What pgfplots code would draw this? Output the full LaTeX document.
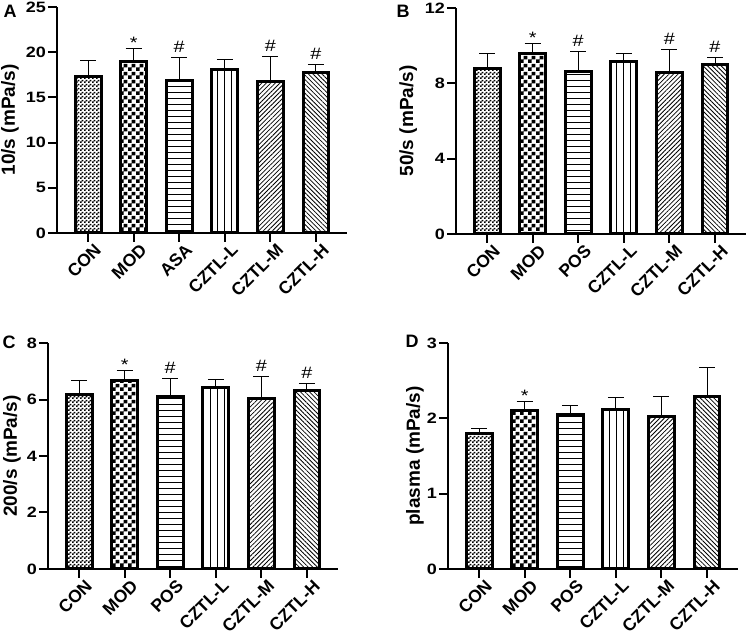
\documentclass[border=0pt]{standalone}
\usepackage{fontspec}
\setmainfont{Liberation Sans}
\newfontfamily\wide[FakeStretch=1.2]{Liberation Sans}
\usepackage{pgfplots}
\pgfplotsset{compat=1.18}
\usetikzlibrary{patterns,patterns.meta}

% checkerboards of two sizes
\pgfdeclarepatternformonly{checkfine}{\pgfpointorigin}{\pgfqpoint{4pt}{4pt}}{\pgfqpoint{4pt}{4pt}}{%
  \pgfpathrectangle{\pgfpointorigin}{\pgfqpoint{2pt}{2pt}}%
  \pgfpathrectangle{\pgfqpoint{2pt}{2pt}}{\pgfqpoint{2pt}{2pt}}%
  \pgfusepath{fill}}
\pgfdeclarepatternformonly{checkbig}{\pgfpointorigin}{\pgfqpoint{8pt}{8pt}}{\pgfqpoint{8pt}{8pt}}{%
  \pgfpathrectangle{\pgfpointorigin}{\pgfqpoint{4pt}{4pt}}%
  \pgfpathrectangle{\pgfqpoint{4pt}{4pt}}{\pgfqpoint{4pt}{4pt}}%
  \pgfusepath{fill}}

\tikzset{
  pCON/.style={pattern=checkfine},
  pMOD/.style={pattern=checkbig},
  pPOS/.style={pattern={Lines[angle=0,distance=6pt,line width=1pt]}},
  pL/.style={pattern={Lines[angle=90,distance=7pt,line width=1pt]}},
  pM/.style={pattern={Lines[angle=45,distance=3.2pt,line width=0.8pt]}},
  pH/.style={pattern={Lines[angle=-45,distance=3.2pt,line width=0.8pt]}},
}

% one bar: style, x, mean, sd
\newcommand{\onebar}[4]{%
  \addplot[ybar, bar width=0.57, bar shift=0pt, draw=black, line width=3pt, #1,
    error bars/.cd, y dir=plus, y explicit,
    error bar style={line width=1pt},
    error mark options={rotate=90, line width=1pt, mark size=8pt}]
    coordinates {(#2,#3) +- (0,#4)};}

\pgfplotsset{panel/.style={
  width=290pt, height=226pt, scale only axis, anchor=south west,
  axis x line*=bottom, axis y line*=left,
  axis line style={line width=2pt},
  tick align=outside, major tick length=9pt,
  tick style={black, line width=2pt},
  xmin=-0.68, xmax=5.68, ymin=0, xtick={0,...,5},
  /pgf/number format/assume math mode=true,
  x tick label style={font=\bfseries\fontsize{17.5}{20}\selectfont,
    xshift=10pt, yshift=-5pt, rotate=45, anchor=east, inner sep=0pt},
  y tick label style={font=\wide\bfseries\fontsize{15}{18}\selectfont, inner sep=2pt},
  ylabel style={font=\bfseries\fontsize{19}{22}\selectfont, anchor=center},
  clip=false},
  sig/.style={draw=none, mark=none, point meta=explicit symbolic, nodes near coords,
    every node near coord/.append style={font=\wide\fontsize{16.5}{20}\selectfont, anchor=base, inner sep=0pt}}
}

\begin{document}
\begin{tikzpicture}
\useasboundingbox (0,0) rectangle (750pt,639pt);

% A
\begin{axis}[panel, at={(57pt,406pt)}, ymax=25, ytick={0,5,...,25},
  xticklabels={CON,MOD,ASA,CZTL-L,CZTL-M,CZTL-H},
  ylabel={10/s (mPa/s)}, ylabel style={at={(axis description cs:-0.162,0.5)}}]
\onebar{pCON}{0}{17.33}{1.70}
\onebar{pMOD}{1}{18.99}{1.40}
\onebar{pPOS}{2}{16.92}{2.44}
\onebar{pL}{3}{18.14}{1.07}
\onebar{pM}{4}{16.78}{2.76}
\onebar{pH}{5}{17.70}{0.99}
\addplot[sig, every node near coord/.append style={yshift=0pt}] coordinates {(1,20.39)[*]};
\addplot[sig, every node near coord/.append style={yshift=5pt}] coordinates {(2,19.36)[\#] (4,19.54)[\#] (5,18.69)[\#]};
\end{axis}

% B
\begin{axis}[panel, at={(456pt,405pt)}, ymax=12, ytick={0,4,8,12},
  xticklabels={CON,MOD,POS,CZTL-L,CZTL-M,CZTL-H},
  ylabel={50/s (mPa/s)}, ylabel style={at={(axis description cs:-0.165,0.5)}}]
\onebar{pCON}{0}{8.81}{0.76}
\onebar{pMOD}{1}{9.57}{0.56}
\onebar{pPOS}{2}{8.63}{1.08}
\onebar{pL}{3}{9.16}{0.43}
\onebar{pM}{4}{8.56}{1.22}
\onebar{pH}{5}{8.99}{0.40}
\addplot[sig, every node near coord/.append style={yshift=0pt}] coordinates {(1,10.13)[*]};
\addplot[sig, every node near coord/.append style={yshift=5pt}] coordinates {(2,9.71)[\#] (4,9.78)[\#] (5,9.39)[\#]};
\end{axis}

% C
\begin{axis}[panel, at={(48pt,70pt)}, ymax=8, ytick={0,2,...,8},
  xticklabels={CON,MOD,POS,CZTL-L,CZTL-M,CZTL-H},
  ylabel={200/s (mPa/s)}, ylabel style={at={(axis description cs:-0.124,0.5)}}]
\onebar{pCON}{0}{6.19}{0.47}
\onebar{pMOD}{1}{6.66}{0.35}
\onebar{pPOS}{2}{6.09}{0.67}
\onebar{pL}{3}{6.42}{0.29}
\onebar{pM}{4}{6.02}{0.78}
\onebar{pH}{5}{6.31}{0.25}
\addplot[sig, every node near coord/.append style={yshift=0pt}] coordinates {(1,7.01)[*]};
\addplot[sig, every node near coord/.append style={yshift=5pt}] coordinates {(2,6.76)[\#] (4,6.80)[\#] (5,6.56)[\#]};
\end{axis}

% D
\begin{axis}[panel, at={(448pt,70pt)}, ymax=3, ytick={0,1,2,3},
  xticklabels={CON,MOD,POS,CZTL-L,CZTL-M,CZTL-H},
  ylabel={plasma (mPa/s)}, ylabel style={at={(axis description cs:-0.114,0.5)}}]
\onebar{pCON}{0}{1.795}{0.07}
\onebar{pMOD}{1}{2.10}{0.12}
\onebar{pPOS}{2}{2.056}{0.12}
\onebar{pL}{3}{2.12}{0.16}
\onebar{pM}{4}{2.03}{0.255}
\onebar{pH}{5}{2.285}{0.385}
\addplot[sig, every node near coord/.append style={yshift=0pt}] coordinates {(1,2.22)[*]};
\end{axis}

\begin{scope}[font=\bfseries\fontsize{18}{21}\selectfont]
\node at (10pt,628pt) {A};
\node at (403pt,628pt) {B};
\node at (9pt,297pt) {C};
\node at (412pt,298pt) {D};
\end{scope}
\end{tikzpicture}
\end{document}
